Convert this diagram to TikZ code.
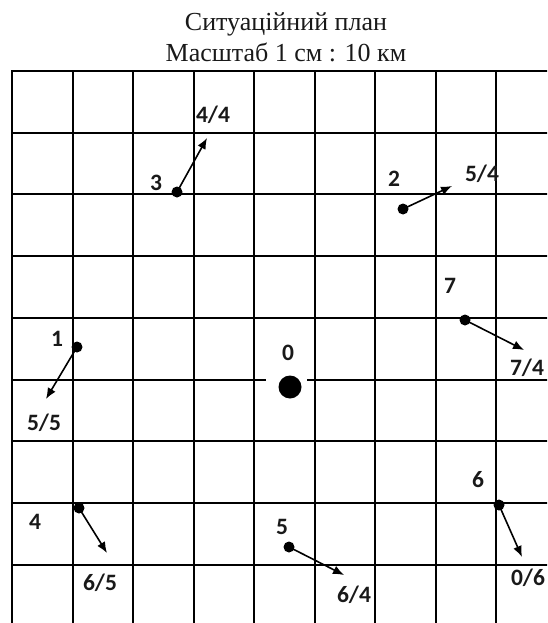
\documentclass[tikz,border=0pt]{standalone}
\usepackage{fontspec}
\setmainfont{Liberation Serif}
\newfontfamily\lblfont{Carlito}
\usetikzlibrary{arrows.meta}
\begin{document}
\begin{tikzpicture}[x=1pt,y=-1pt,
  gridline/.style={line width=2pt, black, line cap=rect},
  pt/.style={circle, fill=black, inner sep=0pt, minimum size=11pt},
  bigpt/.style={circle, fill=black, inner sep=0pt, minimum size=23pt},
  lbl/.style={font=\lblfont\bfseries\fontsize{23.5}{25}\selectfont, inner sep=0pt, text=black!90},
  vec/.style={line width=1.6pt, -{Latex[length=11pt,width=9pt]}},
  ttl/.style={font=\fontsize{26}{30}\selectfont, anchor=base, inner sep=0pt, text=black!90}]
\useasboundingbox (0,0) rectangle (547,623);
% title
\node[ttl] (title1) at (286,31) {Ситуаційний план};
\node[ttl] (title2) at (286,62) {Масштаб 1 см : 10 км};
% grid
\begin{scope}
\clip (0,0) rectangle (547,623);
\foreach \x in {12,73,133,194,254,315,375,436,496} \draw[gridline] (\x,71) -- (\x,640);
\foreach \y in {71,133,194,256,318,380,441,503,565} \draw[gridline] (12,\y) -- (570,\y);
\end{scope}
% gap around centre point
\fill[white] (266,377) rectangle (307,383);
% centre point
\node[bigpt] (p0) at (290,387) {};
\node[lbl] (l0) at (288,353) {0};
% points
\node[pt] (p1) at (77,347) {};
\node[pt] (p2) at (403,209) {};
\node[pt] (p3) at (177,192) {};
\node[pt] (p4) at (79,508) {};
\node[pt] (p5) at (289,547) {};
\node[pt] (p6) at (499,505) {};
\node[pt] (p7) at (465,320) {};
% point labels
\node[lbl] (l1) at (57,339) {1};
\node[lbl] (l2) at (394,179) {2};
\node[lbl] (l3) at (156,183) {3};
\node[lbl] (l4) at (35,522) {4};
\node[lbl] (l5) at (282,527) {5};
\node[lbl] (l6) at (478,480) {6};
\node[lbl] (l7) at (450,286) {7};
% arrow tips
\coordinate (t1) at (46,399);
\coordinate (t2) at (452,186);
\coordinate (t3) at (207,138);
\coordinate (t4) at (107,553);
\coordinate (t5) at (344,575);
\coordinate (t6) at (522,557);
\coordinate (t7) at (524,350);
\foreach \k in {1,...,7} \draw[vec] (p\k.center) -- (t\k);
% arrow labels
\node[lbl] (a1) at (44,423) {5/5};
\node[lbl] (a2) at (482,174) {5/4};
\node[lbl] (a3) at (213,115) {4/4};
\node[lbl] (a4) at (100,583) {6/5};
\node[lbl] (a5) at (354,595) {6/4};
\node[lbl] (a6) at (528,578) {0/6};
\node[lbl] (a7) at (527,368) {7/4};
\end{tikzpicture}
\end{document}
